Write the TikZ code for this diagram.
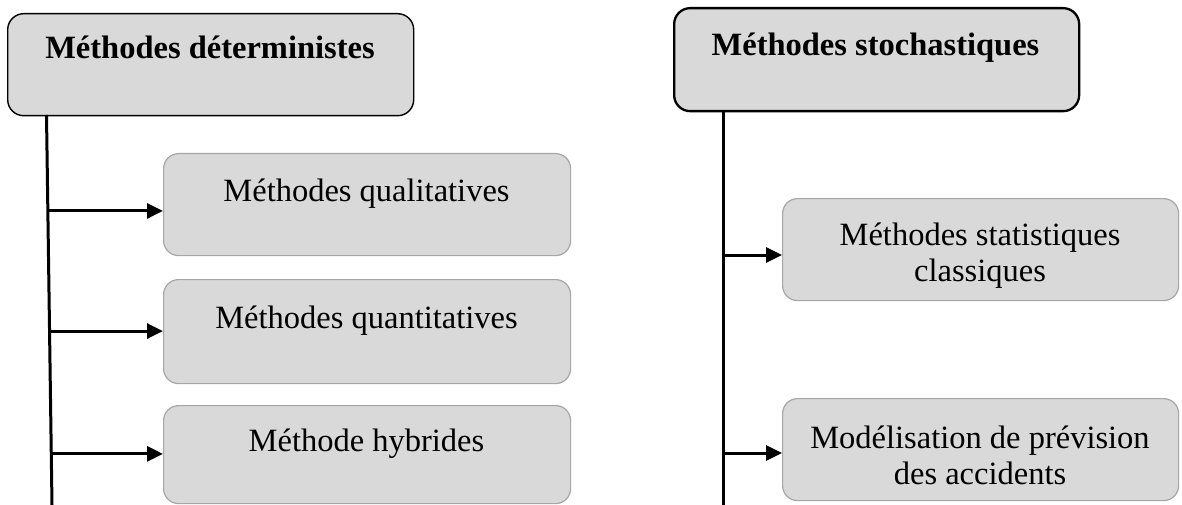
\documentclass[tikz,border=0pt]{standalone}
\usepackage{fontspec}
\setmainfont{Liberation Serif}
\usetikzlibrary{arrows.meta,calc}
\definecolor{boxgray}{HTML}{D9D9D9}
\definecolor{edgegray}{HTML}{A6A6A6}
\begin{document}
\begin{tikzpicture}[x=1pt,y=-1pt,
  headbox/.style={draw=black, line width=1.4pt, fill=boxgray, rounded corners=16pt,
    inner sep=0pt, anchor=north west},
  subbox/.style={draw=edgegray, line width=1.2pt, fill=boxgray, rounded corners=15pt,
    inner sep=0pt, anchor=north west},
  trunk/.style={line width=3pt},
  branch/.style={line width=3pt, -{Triangle[length=16pt,width=15pt]}},
  bodytxt/.style={inner sep=0pt, anchor=base, align=center,
    font=\fontsize{32.5}{36}\selectfont},
  headtxt/.style={inner sep=0pt, anchor=base,
    font=\fontsize{32.5}{36}\selectfont\bfseries},
]
\useasboundingbox (0,0) rectangle (1182,505);

% ---- deterministic branch ----
\node[headbox, minimum width=406pt, minimum height=102pt] (det) at (7,13) {};
\node[headtxt] (dett) at (210,59) {Méthodes déterministes};

\node[subbox, minimum width=407pt, minimum height=102pt] (qual) at (163,153) {};
\node[bodytxt] (qualt) at (366.5,201) {Méthodes qualitatives};
\node[subbox, minimum width=407pt, minimum height=104pt] (quan) at (163,279) {};
\node[bodytxt] (quant) at (366.5,328) {Méthodes quantitatives};
\node[subbox, minimum width=407pt, minimum height=98pt] (hyb) at (163,405) {};
\node[bodytxt] (hybt) at (366.5,451) {Méthode hybrides};

\coordinate (ltop) at (46.5,115);
\coordinate (lbot) at (52,505);
\draw[trunk] (ltop) -- (lbot);
\coordinate (l1) at ($(ltop)!0.246!(lbot)$);
\coordinate (l2) at ($(ltop)!0.554!(lbot)$);
\coordinate (l3) at ($(ltop)!0.869!(lbot)$);
\draw[branch] (l1) -- (l1 -| qual.west);
\draw[branch] (l2) -- (l2 -| quan.west);
\draw[branch] (l3) -- (l3 -| hyb.west);

% ---- stochastic branch ----
\node[headbox, line width=2.3pt, minimum width=405pt, minimum height=103pt] (sto) at (673,7) {};
\node[headtxt] (stot) at (875.5,56) {Méthodes stochastiques};

\node[subbox, minimum width=396pt, minimum height=102pt] (stat) at (782,198) {};
\node[bodytxt, anchor=center] (statt) at (980,256) {Méthodes statistiques\\classiques};
\node[subbox, minimum width=396pt, minimum height=102pt] (prev) at (782,398) {};
\node[bodytxt, anchor=center] (prevt) at (980,455) {Modélisation de prévision\\des accidents};

\coordinate (rtop) at (723,110);
\coordinate (rbot) at (723,505);
\draw[trunk] (rtop) -- (rbot);
\coordinate (r1) at (723,255);
\coordinate (r2) at (723,453);
\draw[branch] (r1) -- (r1 -| stat.west);
\draw[branch] (r2) -- (r2 -| prev.west);
\end{tikzpicture}
\end{document}
